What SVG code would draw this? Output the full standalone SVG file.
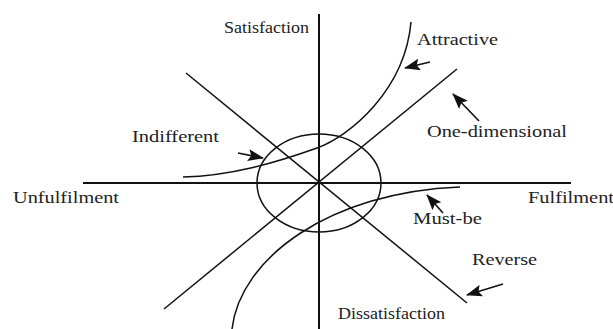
<svg xmlns="http://www.w3.org/2000/svg" width="613" height="329" viewBox="0 0 613 329">
<style>
.ax{stroke:#111;stroke-width:2;fill:none}
.ln{stroke:#111;stroke-width:1.5;fill:none}
.ar{stroke:#111;stroke-width:1.6;fill:none;marker-end:url(#h)}
text{font-family:"Liberation Serif","Times New Roman",serif;font-size:16px;fill:#222}
</style>
<defs>
<marker id="h" markerWidth="16" markerHeight="12" refX="15" refY="6" orient="auto" markerUnits="userSpaceOnUse">
<path d="M0,0 L16,6 L0,12 L3,6 Z" fill="#111"/>
</marker>
</defs>
<rect width="613" height="329" fill="#fff"/>
<g id="connectors">
<line class="ax" x1="319" y1="14" x2="319" y2="329"/>
<line class="ax" x1="83" y1="183" x2="571" y2="183"/>
<ellipse class="ln" cx="319" cy="183" rx="62" ry="49"/>
<line class="ln" x1="186" y1="73" x2="467" y2="303"/>
<line class="ln" x1="164" y1="309" x2="457" y2="69"/>
<path class="ln" d="M183,177 C230,176 275,163 317,148 C350,136 405,90 411,22"/>
<path class="ln" d="M232,329 C240,258 330,192 460,187"/>
<line class="ar" x1="430" y1="62" x2="405" y2="68"/>
<line class="ar" x1="479" y1="121" x2="453" y2="94"/>
<line class="ar" x1="238" y1="153" x2="263" y2="158"/>
<line class="ar" x1="443" y1="213" x2="427" y2="195"/>
<line class="ar" x1="503" y1="284" x2="467" y2="295"/>
</g>
<g id="satisfaction"><text x="224" y="33" textLength="85" lengthAdjust="spacingAndGlyphs">Satisfaction</text></g>
<g id="attractive"><text x="417" y="45" textLength="81" lengthAdjust="spacingAndGlyphs">Attractive</text></g>
<g id="indifferent"><text x="132" y="142" textLength="87" lengthAdjust="spacingAndGlyphs">Indifferent</text></g>
<g id="one-dimensional"><text x="427" y="137" textLength="140" lengthAdjust="spacingAndGlyphs">One-dimensional</text></g>
<g id="unfulfilment"><text x="13" y="203" textLength="106" lengthAdjust="spacingAndGlyphs">Unfulfilment</text></g>
<g id="fulfilment"><text x="528" y="203" textLength="86" lengthAdjust="spacingAndGlyphs">Fulfilment</text></g>
<g id="must-be"><text x="413" y="224" textLength="69" lengthAdjust="spacingAndGlyphs">Must-be</text></g>
<g id="reverse"><text x="472" y="265" textLength="65" lengthAdjust="spacingAndGlyphs">Reverse</text></g>
<g id="dissatisfaction"><text x="338" y="319" textLength="107" lengthAdjust="spacingAndGlyphs">Dissatisfaction</text></g>
</svg>
